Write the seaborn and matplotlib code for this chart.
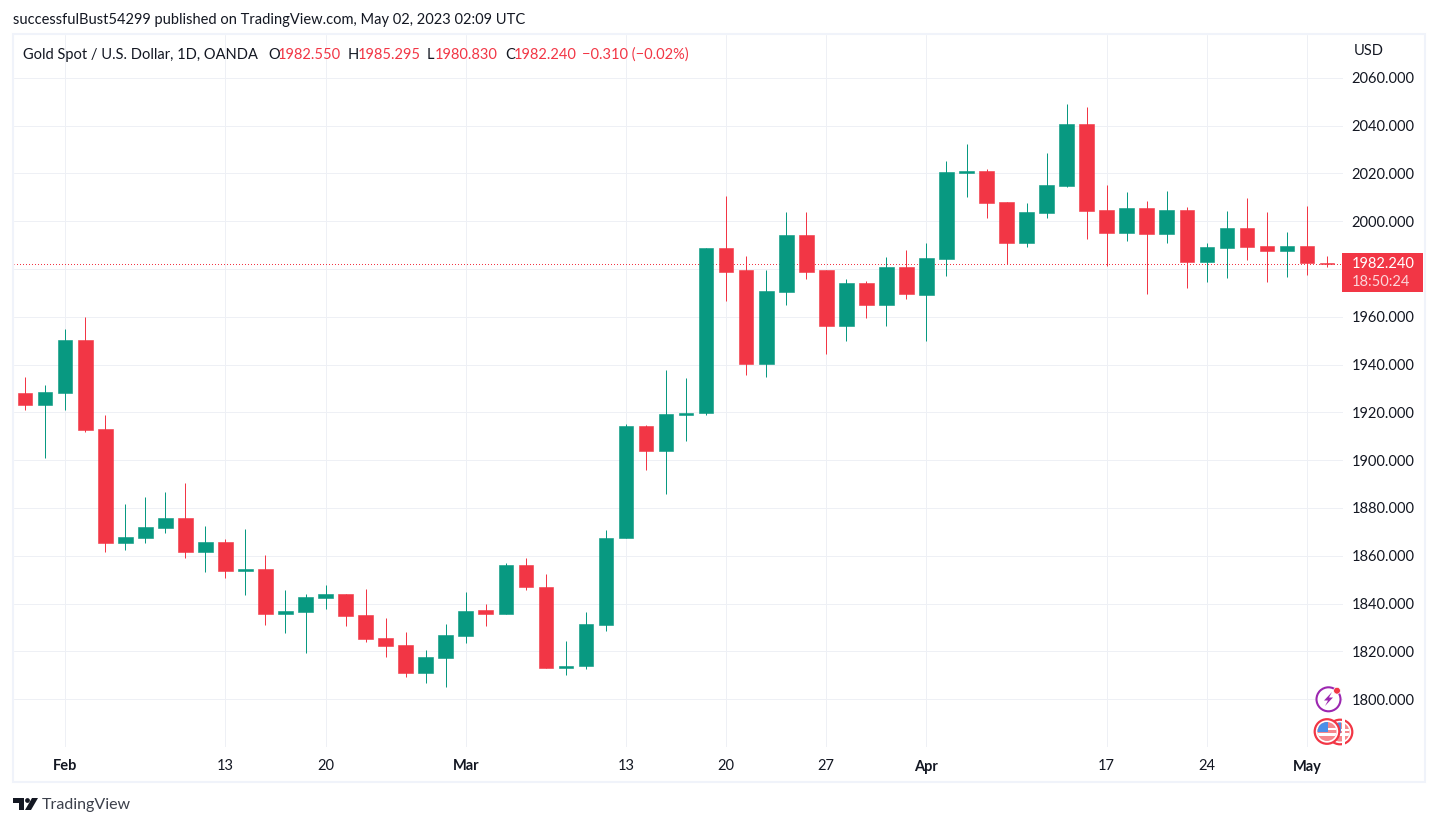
import numpy as np
import pandas as pd
import matplotlib
matplotlib.use("Agg")
import matplotlib.pyplot as plt
from matplotlib.patches import Circle, Polygon, Rectangle
import seaborn as sns

opens = [1928.1,1923.0,1928.1,1950.2,1913.0,1865.3,1867.4,1871.6,1875.8,1861.5,1865.7,1853.6,1854.4,1835.6,1836.4,1842.3,1844.0,1835.2,1825.5,1822.6,1810.9,1817.2,1826.5,1837.1,1835.8,1855.9,1847.1,1813.2,1813.7,1830.9,1867.2,1914.1,1904.0,1918.7,1919.5,1988.6,1979.4,1940.4,1970.2,1994.0,1979.4,1956.3,1974.3,1964.7,1981.0,1969.0,1984.1,2020.1,2020.9,2007.9,1990.8,2003.3,2014.6,2040.6,2004.6,1995.0,2005.4,1994.6,2004.6,1982.8,1988.7,1997.1,1989.5,1987.4,1989.5,1982.55]
highs = [1934.8,1931.4,1954.8,1959.9,1918.9,1881.6,1884.5,1886.6,1890.4,1872.4,1867.0,1871.2,1860.3,1845.6,1844.0,1847.7,1844.0,1846.0,1833.9,1828.0,1820.5,1831.4,1845.0,1839.6,1856.8,1858.9,1852.2,1824.5,1836.3,1870.6,1914.9,1914.5,1937.9,1934.2,1988.6,2010.3,1985.6,1979.4,2003.6,2003.6,1979.4,1975.6,1974.8,1984.8,1988.1,1990.8,2025.1,2032.2,2021.8,2007.9,2007.5,2028.5,2049.0,2047.7,2015.1,2012.1,2008.4,2012.6,2005.9,1990.8,2004.2,2009.6,2003.8,1995.4,2006.3,1985.295]
lows = [1921.0,1900.9,1921.0,1911.7,1861.5,1862.4,1865.3,1869.5,1859.0,1853.2,1850.7,1843.5,1831.0,1827.6,1819.3,1837.7,1830.7,1823.9,1817.6,1809.2,1806.7,1805.0,1823.6,1830.4,1835.8,1845.5,1813.2,1809.9,1812.4,1828.3,1867.2,1895.7,1886.0,1907.8,1918.7,1966.4,1935.8,1934.6,1965.1,1975.6,1944.6,1949.7,1959.3,1955.9,1967.2,1949.8,1977.0,2010.0,2001.3,1982.0,1989.1,2001.3,2014.2,1992.5,1981.2,1991.6,1969.5,1990.8,1972.0,1974.5,1976.2,1983.7,1974.5,1976.6,1977.5,1980.83]
closes = [1923.0,1928.5,1950.2,1912.6,1865.3,1867.8,1872.0,1875.8,1861.5,1865.7,1853.6,1854.4,1835.6,1836.8,1842.7,1844.0,1834.8,1825.1,1822.2,1810.9,1817.6,1826.8,1837.0,1835.8,1855.9,1846.7,1813.2,1814.0,1831.3,1867.6,1914.1,1904.0,1919.1,1919.9,1988.6,1978.9,1940.4,1970.6,1994.0,1978.9,1956.3,1974.3,1964.7,1981.0,1969.3,1984.5,2020.5,2020.9,2007.5,1990.8,2003.8,2015.1,2040.6,2004.2,1995.0,2005.4,1994.6,2004.6,1982.8,1989.1,1997.1,1989.1,1987.4,1989.5,1982.4,1982.24]
last_price = 1982.24
tick_idx = [2, 10, 15, 22, 30, 35, 40, 45, 54, 59, 64]
tick_lab = ["Feb", "13", "20", "Mar", "13", "20", "27", "Apr", "17", "24", "May"]
month_lab = {"Feb", "Mar", "Apr", "May"}
price_ticks = list(range(1800, 2061, 20))
hidden_price = 1980  # its label sits under the last-price tag in the reference

GREEN, RED = "#089981", "#F23645"
GRID, INK = "#EEF0F5", "#131722"
FONT = "Lato"
FS = 10.55

sns.set_theme(style="white")
plt.rcParams["font.family"] = [FONT, "DejaVu Sans"]
W, H = 1437, 826
fig = plt.figure(figsize=(W / 100, H / 100), dpi=100, facecolor="white")
L, R, T, B = 14, 1343, 35, 747
ax = fig.add_axes([L / W, 1 - B / H, (R - L) / W, (B - T) / H])

df = pd.DataFrame({"i": np.arange(len(opens)), "o": opens, "h": highs, "l": lows, "c": closes})
df["top"] = df[["o", "c"]].max(axis=1)
df["bot"] = df[["o", "c"]].min(axis=1)
df["body"] = df["top"] - df["bot"]
df["up"] = df["c"] >= df["o"]

ax.axhline(last_price, color=RED, lw=0.72, ls=(0.5, (1, 2)), zorder=2, dash_capstyle="butt")
ax.vlines(df.i[df.up], df.l[df.up], df.h[df.up], color=GREEN, lw=0.72, zorder=3)
ax.vlines(df.i[~df.up], df.l[~df.up], df.h[~df.up], color=RED, lw=0.72, zorder=3)
for mask, col in ((df.up, GREEN), (~df.up, RED)):
    sub = df[mask]
    sns.barplot(data=sub, x="i", y="body", bottom=sub["bot"].to_numpy(), native_scale=True,
                width=0.73, gap=0, color=col, saturation=1, edgecolor=col, linewidth=0.4,
                errorbar=None, ax=ax, zorder=4)

sx = 20.03
x0 = 25.1
ax.set_xlim((L - x0) / sx, (R - x0) / sx)
py = lambda y: 1960 + (316.7 - y) / 2.39
ax.set_ylim(py(B), py(T))
ax.set_xlabel("")
ax.set_ylabel("")
ax.set_xticks(tick_idx, tick_lab)
ax.set_yticks(price_ticks, ["" if v == hidden_price else f"{v:.3f}" for v in price_ticks])
ax.yaxis.tick_right()
ax.grid(True, color=GRID, lw=0.72, zorder=0)
ax.set_axisbelow(True)
ax.tick_params(axis="both", length=0, labelsize=FS, colors=INK)
ax.tick_params(axis="y", pad=6.3)
ax.tick_params(axis="x", pad=9)
for t in ax.get_xticklabels():
    if t.get_text() in month_lab:
        t.set_fontweight("bold")
for s in ax.spines.values():
    s.set_visible(False)

ov = fig.add_axes([0, 0, 1, 1], facecolor="none", zorder=10)
ov.set_xlim(0, W)
ov.set_ylim(H, 0)
ov.axis("off")
ov.add_patch(Rectangle((12.5, 34), 1412, 748, fill=False, ec="#F0F3FA", lw=1.5))

def txt(x, y, s, color=INK, ha="left", size=FS, **kw):
    ov.text(x, y, s, color=color, ha=ha, va="center", fontsize=size, **kw)

txt(13, 20, "successfulBust54299 published on TradingView.com, May 02, 2023 02:09 UTC")
txt(23, 55, "Gold Spot / U.S. Dollar, 1D, OANDA")
txt(268, 55, "O"); txt(278, 55, "1982.550", RED)
txt(348, 55, "H"); txt(358, 55, "1985.295", RED)
txt(427, 55, "L"); txt(435, 55, "1980.830", RED)
txt(505, 55, "C"); txt(514, 55, "1982.240", RED)
txt(582, 55, "\u22120.310 (\u22120.02%)", RED)
txt(1354, 51, "USD")

ov.add_patch(Rectangle((1342, 253), 81, 39, fc=RED, ec="none"))
txt(1352, 264, "1982.240", "white")
txt(1352, 282.5, "18:50:24", "#FBD5D9")

# TradingView wordmark
txt(42, 805, "TradingView", "#3C404B", size=11.5)
ov.add_patch(Polygon([(13, 798), (24, 798), (24, 810), (19, 810), (19, 803), (13, 803)], fc=INK, ec="none"))
ov.add_patch(Circle((27.5, 800.5), 2.4, fc=INK, ec="none"))
ov.add_patch(Polygon([(32, 798), (38, 798), (31, 810), (25, 810)], fc=INK, ec="none"))

# event badges
def flag(cx, cy, z):
    ov.add_patch(Circle((cx, cy), 12.3, fc="white", ec=RED, lw=1.6, zorder=z))
    inner = Circle((cx, cy), 9.5, transform=ov.transData)
    parts = [Rectangle((cx - 10, cy - 10), 20, 20, fc="#F6878C", ec="none"),
             Rectangle((cx - 10, cy + 1), 20, 3, fc="white", ec="none"),
             Rectangle((cx, cy - 3.5), 10, 2.2, fc="white", ec="none"),
             Rectangle((cx - 10, cy - 10), 10.5, 10.5, fc="#4C8FE8", ec="none")]
    for p in parts:
        p.set_zorder(z)
        ov.add_patch(p)
        p.set_clip_path(inner)

flag(1340, 732, 1)
flag(1327, 731.5, 2)
ov.add_patch(Rectangle((1342, 715), 3, 35, fc="white", ec="none", zorder=5))
ov.add_patch(Circle((1328.5, 699.3), 12, fc="white", ec="#9C27B0", lw=1.5, zorder=2))
ov.add_patch(Polygon([(1332, 692), (1324, 700.5), (1328, 700.5), (1325, 706), (1333, 697.5), (1329, 697.5)],
                     fc="#9C27B0", ec="none", zorder=3))
ov.add_patch(Circle((1337, 690.7), 3.4, fc=RED, ec="white", lw=0.5, zorder=4))

fig.savefig("out.png", dpi=100, facecolor="white")
